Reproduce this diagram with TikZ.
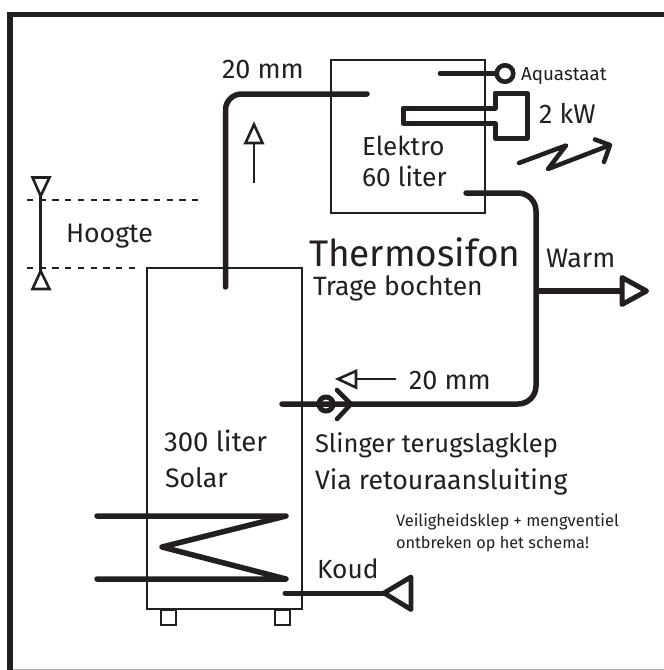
\documentclass[tikz,border=0pt]{standalone}
\usepackage{fontspec}
\setmainfont{Fira Sans}
\definecolor{ink}{HTML}{231F20}
\tikzset{
  lbl/.style={anchor=base west,inner sep=0pt,outer sep=0pt,text=ink},
  box/.style={draw=ink,line width=2.2pt,fill=none,inner sep=0pt,outer sep=0pt},
  pipe/.style={draw=ink,line width=5.5pt,line cap=round,line join=round},
  thin pipe/.style={draw=ink,line width=2.6pt,line cap=round,line join=miter},
  tip/.style={draw=ink,line width=2.6pt,line join=miter,fill=white},
  big tip/.style={draw=ink,line width=4.8pt,line join=round,fill=white},
  level/.style={draw=ink,line width=2.5pt,dash pattern=on 6.3pt off 6.4pt},
}
\newcommand{\fs}[1]{\fontsize{#1}{#1}\selectfont}
\begin{document}
\begin{tikzpicture}[x=1pt,y=-1pt]
\useasboundingbox (0,0) rectangle (664,670);
\fill[white] (0,0) rectangle (664,670);
% frame
\draw[ink,line width=5.5pt,line cap=butt] (10.2,670) -- (10.2,14.5) -- (664,14.5);
\draw[black!30,line width=1.2pt] (13,669.3) -- (664,669.3);
% tanks
\node[box,minimum width=154pt,minimum height=153pt,anchor=north west] (elektro) at (331,60) {};
\node[box,minimum width=155pt,minimum height=341pt,anchor=north west] (solar) at (147,268) {};
\node[draw=ink,line width=2pt,minimum width=15pt,minimum height=15pt,inner sep=0pt,anchor=north west] (footL) at (160,609) {};
\node[draw=ink,line width=2pt,minimum width=15pt,minimum height=15pt,inner sep=0pt,anchor=north west] (footR) at (273.5,609) {};
% coordinates
\coordinate (riserBot) at (225.5,287);
\coordinate (riserCorner) at (225.5,94);
\coordinate (riserEnd) at (367,94);
\coordinate (hotStart) at (466,193);
\coordinate (hotCorner) at (536,193);
\coordinate (hotCorner2) at (536,404);
\coordinate (retEnd) at (282,404);
\coordinate (warmT) at (536,291);
\coordinate (warmEnd) at (622,291);
\coordinate (koudIn) at (285,593);
\coordinate (koudEnd) at (384,593);
\coordinate (aquaIn) at (440,73.5);
% hot loop
\draw[pipe,rounded corners=16pt] (riserBot) -- (riserCorner) -- (riserEnd);
\draw[pipe,rounded corners=18pt] (hotStart) -- (hotCorner) -- (hotCorner2) -- (retEnd);
\draw[pipe,line cap=butt] (warmT) -- (warmEnd);
\draw[big tip,line width=5pt] (warmEnd) -- (622,277.5) -- (646.5,291) -- (622,304.5) -- cycle;
% koud
\draw[pipe,line width=5pt] (koudIn) -- (koudEnd);
\draw[big tip] (koudEnd) -- (411,577) -- (411,609.5) -- cycle;
% coil
\draw[pipe] (97,516) -- (286,516) -- (162,547) -- (286,579) -- (97,579);
% aquastaat
\node[circle,draw=ink,line width=4.6pt,fill=white,minimum size=16.5pt,inner sep=0pt] (aqua) at (505,73.5) {};
\draw[pipe,line width=4.6pt] (aquaIn) -- (aqua);
% heater
\draw[draw=ink,line width=5pt,line join=round]
  (403,108) -- (495,108) -- (495,93) -- (527,93) -- (527,138) -- (495,138) -- (495,123) -- (403,123) -- cycle;
% lightning
\draw[draw=ink,line width=4.5pt,line cap=round,line join=round]
  (519,163) -- (566,145.5) -- (548,169) -- (609,145.5);
\draw[draw=ink,line width=4.5pt,line cap=round,line join=round]
  (595,139.5) -- (610,145) -- (604,162);
% valve
\node[circle,draw=ink,line width=5pt,minimum size=14pt,inner sep=0pt] (valve) at (326,404) {};
\draw[draw=ink,line width=4.6pt,line cap=round,line join=miter] (337,390) -- (351,404) -- (337,419);
% flow arrows
\coordinate (upA) at (254,183);
\coordinate (upB) at (254,143);
\draw[thin pipe,line cap=butt] (upA) -- (upB);
\draw[tip] (upB) -- (245.5,143) -- (254,124.5) -- (262.5,143) -- cycle;
\coordinate (lfA) at (396,379);
\coordinate (lfB) at (356,379);
\draw[thin pipe,line cap=butt] (lfA) -- (lfB);
\draw[tip] (lfB) -- (356,371) -- (338,379) -- (356,387.5) -- cycle;
% hoogte
\draw[level] (27,200) -- (204,200);
\draw[level] (27,268) -- (135,268);
\coordinate (hA) at (40.7,196);
\coordinate (hB) at (40.7,271);
\draw[thin pipe,line cap=butt] (hA) -- (hB);
\draw[tip] (hA) -- (32.5,177.5) -- (49.5,177.5) -- cycle;
\draw[tip] (hB) -- (32.5,289) -- (49.5,289) -- cycle;
% labels
\node[lbl,font=\fs{27}] (t20a) at (222,78) {20 mm};
\node[lbl,font=\fs{26}] (tel) at (362,155) {Elektro};
\node[lbl,font=\fs{26.4}] (t60) at (362,186) {60 liter};
\node[lbl,font=\fs{18.8}] (taq) at (521,80) {Aquastaat};
\node[lbl,font=\fs{27}] (t2k) at (539,123) {2 kW};
\node[lbl,font=\fs{26.7}] (tho) at (66,242) {Hoogte};
\node[lbl,font=\fs{37}] (tth) at (309,266) {Thermosifon};
\node[lbl,font=\fs{26.5}] (ttr) at (313,295) {Trage bochten};
\node[lbl,font=\fs{26.8}] (twa) at (546,267) {Warm};
\node[lbl,font=\fs{27}] (t20b) at (409,389) {20 mm};
\node[lbl,font=\fs{25.5}] (tsl) at (315,452) {Slinger terugslagklep};
\node[lbl,font=\fs{26.7}] (tvi) at (315,489) {Via retouraansluiting};
\node[lbl,font=\fs{27.6}] (t30) at (164,451) {300 liter};
\node[lbl,font=\fs{26.7}] (tso) at (165,487) {Solar};
\node[lbl,font=\fs{16.5}] (tve) at (396,526) {Veiligheidsklep + mengventiel};
\node[lbl,font=\fs{16.3}] (ton) at (396,548) {ontbreken op het schema!};
\node[lbl,font=\fs{26.3}] (tko) at (317,578) {Koud};
\end{tikzpicture}
\end{document}
